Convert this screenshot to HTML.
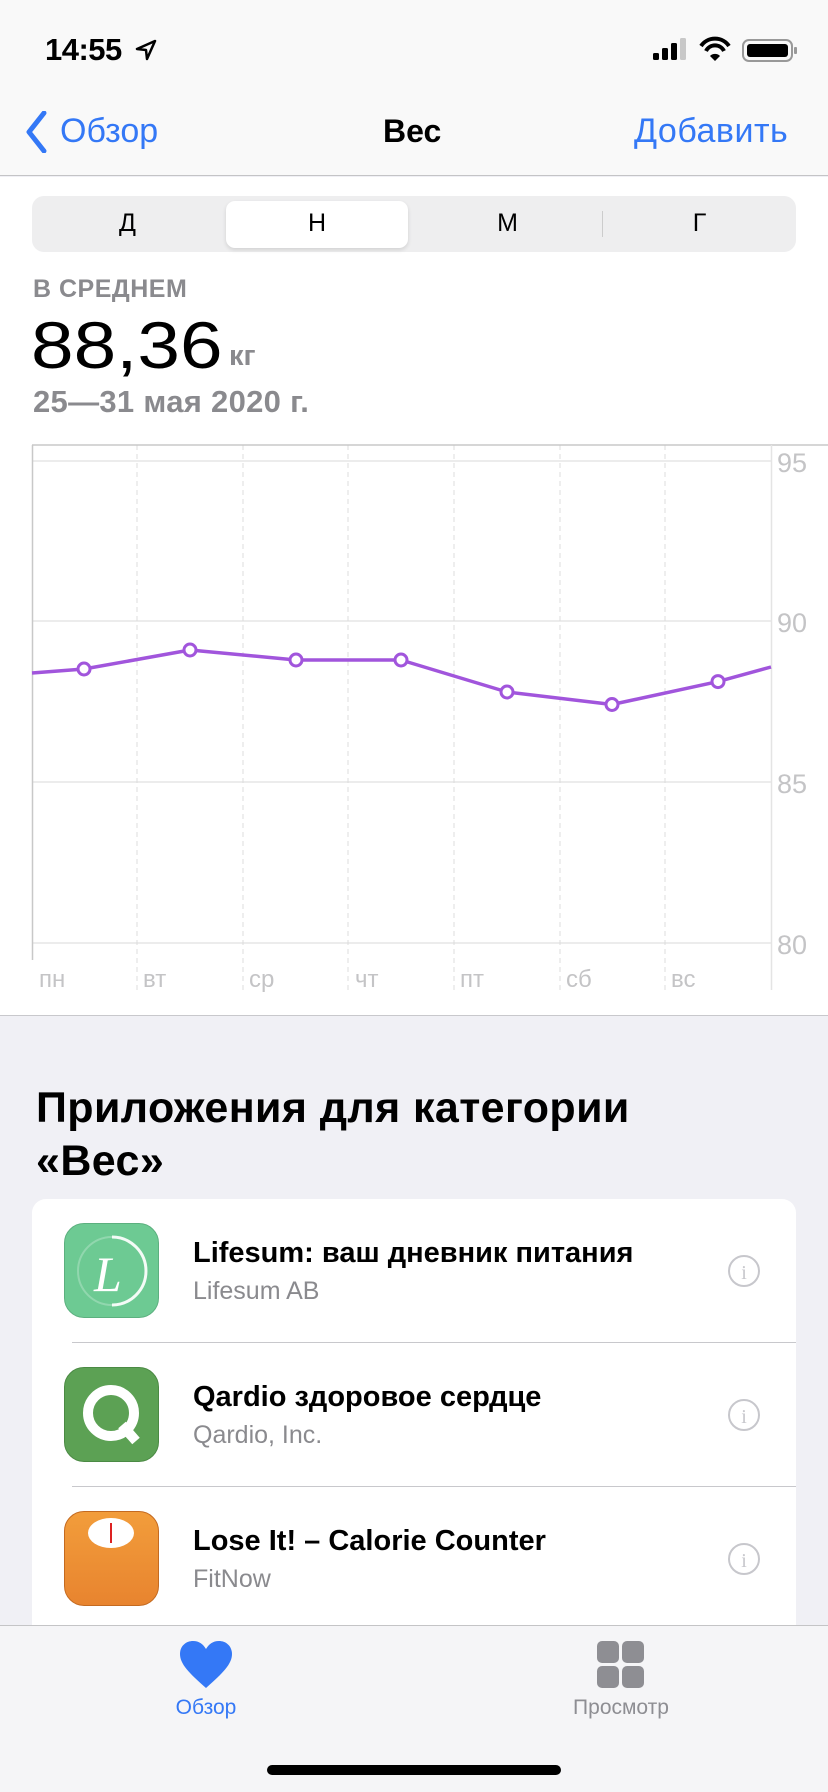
<!DOCTYPE html>
<html><head><meta charset="utf-8"><style>
*{margin:0;padding:0;box-sizing:border-box}
body{width:828px;height:1792px;background:#f0f0f5;font-family:"Liberation Sans","Noto Sans CJK SC",sans-serif;position:relative;overflow:hidden}
.a{position:absolute;white-space:nowrap}
</style></head><body>
<div class="a" style="left:0;top:0;width:828px;height:176px;background:#f9f9f9;border-bottom:1px solid #c4c4c6"></div>
<div class="a" style="left:0;top:177px;width:828px;height:839px;background:#fff;border-bottom:1px solid #c8c8cc"></div>
<div class="a" style="left:45px;top:32px;font-size:31px;font-weight:bold;letter-spacing:-0.5px">14:55</div>
<svg class="a" style="left:134px;top:38px" width="24" height="24" viewBox="0 0 24 24"><path d="M21 3 L3 11 L12 12 L13 21 Z" fill="none" stroke="#000" stroke-width="2.5" stroke-linejoin="round"/></svg>
<svg class="a" style="left:650px;top:36px" width="150" height="28">
<rect x="3" y="17" width="6" height="7" rx="1.5"/><rect x="12" y="12" width="6" height="12" rx="1.5"/><rect x="21" y="7" width="6" height="17" rx="1.5"/><rect x="30" y="2" width="6" height="22" rx="1.5" fill="#c8c8c8"/>
<path d="M51 10 A17 17 0 0 1 79 10" stroke="#000" stroke-width="4" fill="none"/><path d="M56 15 A10 10 0 0 1 74 15" stroke="#000" stroke-width="4" fill="none"/><path d="M60 20 L65 25 L70 20 A7 7 0 0 0 60 20Z"/>
<rect x="93" y="4" width="49" height="21" rx="6" fill="none" stroke="#999" stroke-width="2"/><rect x="97" y="8" width="41" height="13" rx="3"/><rect x="144" y="11" width="3" height="7" rx="1" fill="#999"/>
</svg>
<svg class="a" style="left:24px;top:111px" width="24" height="42"><path d="M20 2 L5 21 L20 40" stroke="#3478f6" stroke-width="5" fill="none" stroke-linecap="round" stroke-linejoin="round"/></svg>
<div class="a" style="left:60px;top:112px;font-size:34px;color:#3478f6">Обзор</div>
<div class="a" style="left:383px;top:113px;font-size:32px;font-weight:bold">Вес</div>
<div class="a" style="left:634px;top:112px;font-size:34px;color:#3478f6;letter-spacing:0.5px">Добавить</div>
<div class="a" style="left:32px;top:196px;width:764px;height:56px;background:#eeeeef;border-radius:12px"></div>
<div class="a" style="left:226px;top:201px;width:182px;height:47px;background:#fff;border-radius:9px;box-shadow:0 2px 4px rgba(0,0,0,.12)"></div>
<div class="a" style="left:602px;top:211px;width:1px;height:26px;background:#ccc"></div>
<div class="a" style="left:32px;top:209px;width:191px;text-align:center;font-size:25px">Д</div>
<div class="a" style="left:226px;top:209px;width:182px;text-align:center;font-size:25px">Н</div>
<div class="a" style="left:412px;top:209px;width:191px;text-align:center;font-size:25px">М</div>
<div class="a" style="left:603px;top:209px;width:193px;text-align:center;font-size:25px">Г</div>
<div class="a" style="left:33px;top:275px;font-size:25px;font-weight:bold;color:#8a8a8e;letter-spacing:0.5px">В СРЕДНЕМ</div>
<div class="a" style="left:31px;top:307px;font-size:66px;transform:scaleX(1.16);transform-origin:0 0">88,36</div>
<div class="a" style="left:229px;top:340px;font-size:29px;font-weight:bold;color:#8a8a8e">кг</div>
<div class="a" style="left:33px;top:384px;font-size:31px;font-weight:bold;color:#8a8a8e;letter-spacing:0.3px">25—31 мая 2020 г.</div>
<svg class="a" style="left:0;top:440px" width="828" height="560">
<g stroke="#ececec" stroke-width="2"><line x1="32" y1="21" x2="771" y2="21"/><line x1="32" y1="181" x2="771" y2="181"/><line x1="32" y1="342" x2="771" y2="342"/><line x1="32" y1="503" x2="771" y2="503"/></g>
<g stroke="#dcdcdc" stroke-width="1" stroke-dasharray="5,4"><line x1="137" y1="5" x2="137" y2="550"/><line x1="243" y1="5" x2="243" y2="550"/><line x1="348" y1="5" x2="348" y2="550"/><line x1="454" y1="5" x2="454" y2="550"/><line x1="560" y1="5" x2="560" y2="550"/><line x1="665" y1="5" x2="665" y2="550"/></g>
<line x1="32" y1="5" x2="828" y2="5" stroke="#c8c8c8" stroke-width="1.5"/>
<line x1="32.5" y1="5" x2="32.5" y2="520" stroke="#c8c8c8" stroke-width="1.5"/>
<line x1="771.5" y1="5" x2="771.5" y2="550" stroke="#e4e4e4" stroke-width="1.5"/>
<polyline points="32,233 84,229 190,210 296,220 401,220 507,252 612,264.5 718,241.6 771,227" fill="none" stroke="#a155dc" stroke-width="3.5" stroke-linejoin="round"/>
<g fill="#fff" stroke="#a155dc" stroke-width="3"><circle cx="84" cy="229" r="6"/><circle cx="190" cy="210" r="6"/><circle cx="296" cy="220" r="6"/><circle cx="401" cy="220" r="6"/><circle cx="507" cy="252" r="6"/><circle cx="612" cy="264.5" r="6"/><circle cx="718" cy="241.6" r="6"/></g>
<g fill="#c4c4c6" font-size="27" font-family="Liberation Sans,sans-serif"><text x="777" y="32">95</text><text x="777" y="192">90</text><text x="777" y="353">85</text><text x="777" y="514">80</text></g>
<g fill="#c4c4c6" font-size="24" font-family="Liberation Sans,sans-serif"><text x="39" y="547">пн</text><text x="143" y="547">вт</text><text x="249" y="547">ср</text><text x="355" y="547">чт</text><text x="460" y="547">пт</text><text x="566" y="547">сб</text><text x="671" y="547">вс</text></g>
</svg>
<div class="a" style="left:36px;top:1082px;font-size:43px;font-weight:bold;line-height:53px;letter-spacing:0.4px">Приложения для категории<br>«Вес»</div>
<div class="a" style="left:32px;top:1199px;width:764px;height:440px;background:#fff;border-radius:14px"></div>
<div class="a" style="left:72px;top:1342px;width:724px;height:1px;background:#c8c8cc"></div>
<div class="a" style="left:72px;top:1486px;width:724px;height:1px;background:#c8c8cc"></div>
<div class="a" style="left:64px;top:1223px;width:95px;height:95px;border-radius:20px;background:#6dca93;border:1px solid #5cb07f"></div>
<svg class="a" style="left:64px;top:1223px" width="95" height="95"><path d="M48 14 A34 34 0 0 1 48 82" stroke="#fff" stroke-width="3" fill="none" opacity=".9"/><circle cx="48" cy="48" r="34" stroke="#fff" stroke-opacity=".25" stroke-width="2" fill="none"/><text x="30" y="68" font-size="50" fill="#fff" font-style="italic" font-family="Liberation Serif,serif">L</text></svg>
<div class="a" style="left:64px;top:1367px;width:95px;height:95px;border-radius:20px;background:#5ca154;border:1px solid #4b8a44"></div>
<svg class="a" style="left:64px;top:1367px" width="95" height="95"><circle cx="47" cy="46" r="23" stroke="#fff" stroke-width="10" fill="none"/><path d="M58 58 L72 74" stroke="#fff" stroke-width="10"/></svg>
<div class="a" style="left:64px;top:1511px;width:95px;height:95px;border-radius:20px;background:linear-gradient(#f29d3b,#e8842f);border:1px solid #c46a20"></div>
<svg class="a" style="left:64px;top:1511px" width="95" height="95"><ellipse cx="47" cy="22" rx="23" ry="15" fill="#fff"/><line x1="47" y1="12" x2="47" y2="32" stroke="#d22" stroke-width="2"/></svg>
<div class="a" style="left:193px;top:1237px;font-size:29px;font-weight:bold">Lifesum: ваш дневник питания</div>
<div class="a" style="left:193px;top:1277px;font-size:25px;color:#8a8a8e">Lifesum AB</div>
<div class="a" style="left:193px;top:1381px;font-size:29px;font-weight:bold">Qardio здоровое сердце</div>
<div class="a" style="left:193px;top:1421px;font-size:25px;color:#8a8a8e">Qardio, Inc.</div>
<div class="a" style="left:193px;top:1525px;font-size:29px;font-weight:bold">Lose It! – Calorie Counter</div>
<div class="a" style="left:193px;top:1565px;font-size:25px;color:#8a8a8e">FitNow</div>
<svg class="a" style="left:726px;top:1254px" width="36" height="380"><g fill="none" stroke="#c7c7cc" stroke-width="2"><circle cx="18" cy="17" r="15"/><circle cx="18" cy="161" r="15"/><circle cx="18" cy="305" r="15"/></g><g fill="#c7c7cc" font-size="20" font-family="Liberation Serif,serif" text-anchor="middle"><text x="18" y="25">i</text><text x="18" y="169">i</text><text x="18" y="313">i</text></g></svg>
<div class="a" style="left:0;top:1625px;width:828px;height:167px;background:#f5f5f7;border-top:1px solid #c4c4c6"></div>
<svg class="a" style="left:179px;top:1640px" width="54" height="50"><path d="M27 48 C10 33 1 24 1 14 C1 6 7 1 14 1 C20 1 24 4 27 9 C30 4 34 1 40 1 C47 1 53 6 53 14 C53 24 44 33 27 48Z" fill="#3478f6"/></svg>
<div class="a" style="left:156px;top:1696px;width:100px;text-align:center;font-size:21px;color:#3478f6">Обзор</div>
<svg class="a" style="left:596px;top:1640px" width="50" height="50"><g fill="#8e8e93"><rect x="1" y="1" width="22" height="22" rx="5"/><rect x="26" y="1" width="22" height="22" rx="5"/><rect x="1" y="26" width="22" height="22" rx="5"/><rect x="26" y="26" width="22" height="22" rx="5"/></g></svg>
<div class="a" style="left:551px;top:1696px;width:140px;text-align:center;font-size:21px;color:#8e8e93">Просмотр</div>
<div class="a" style="left:267px;top:1765px;width:294px;height:10px;border-radius:5px;background:#000"></div>
</body></html>
